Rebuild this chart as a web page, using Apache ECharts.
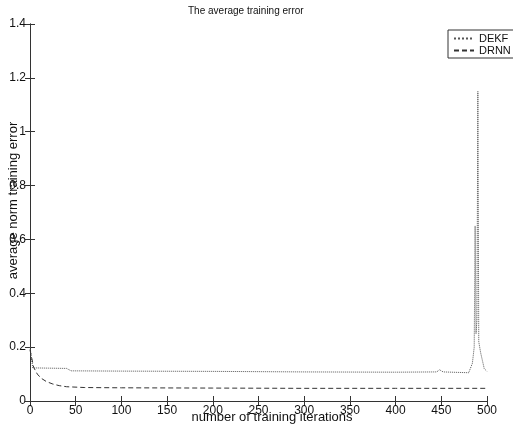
<!DOCTYPE html>
<html>
<head>
<meta charset="utf-8">
<script src="https://cdn.jsdelivr.net/npm/echarts@6/dist/echarts.min.js"></script>
<style>
  html, body { margin: 0; padding: 0; background: #fff; }
  #chart { width: 513px; height: 424px; }
</style>
</head>
<body>
<div id="chart"></div>
<script>
// data
var xTicks = [0, 50, 100, 150, 200, 250, 300, 350, 400, 450, 500];
var yTicks = [0, 0.2, 0.4, 0.6, 0.8, 1, 1.2, 1.4];

var dekfIter = [0, 3, 20, 40, 45, 100, 200, 300, 400, 445, 448, 452, 480, 484, 486, 487, 488, 489, 490, 491, 493, 495, 497, 500];
var dekfErr  = [0.2, 0.123, 0.122, 0.121, 0.112, 0.111, 0.11, 0.108, 0.107, 0.108, 0.116, 0.108, 0.105, 0.14, 0.2, 0.65, 0.25, 0.3, 1.15, 0.22, 0.18, 0.15, 0.12, 0.11];

var drnnIter = [0, 4, 8, 12, 18, 25, 32, 40, 60, 100, 200, 300, 400, 500];
var drnnErr  = [0.19, 0.125, 0.1, 0.085, 0.072, 0.063, 0.057, 0.053, 0.05, 0.049, 0.048, 0.047, 0.047, 0.047];

function pairs(xs, ys) {
	var out = [];
	for (var i = 0; i < xs.length; i++) out.push([xs[i], ys[i]]);
	return out;
}

(function() {
	var myChart = echarts.init(document.getElementById('chart'));
	var font = 'Liberation Sans, Arial, sans-serif';
	var axisCol = '#333';
	var option = {
		backgroundColor: '#fff',
		animation: false,
		title: {
			text: 'The average training error',
			left: 183,
			top: 1,
			textStyle: { fontFamily: font, fontSize: 10, fontWeight: 'normal', color: '#111' }
		},
		legend: {
			left: 448,
			top: 30,
			orient: 'vertical',
			itemWidth: 20,
			itemHeight: 10,
			itemGap: 1,
			padding: [3, 20, 2, 5],
			borderColor: '#333',
			borderWidth: 1,
			backgroundColor: '#fff',
			itemStyle: { opacity: 0 },
			textStyle: { fontFamily: font, fontSize: 11, color: '#111' },
			data: ['DEKF', 'DRNN']
		},
		grid: { left: 30, right: 26, top: 24, bottom: 23, outerBoundsMode: 'none' },
		xAxis: [{
			type: 'value',
			min: 0, max: 500, interval: 50,
			name: 'number of training iterations',
			nameLocation: 'middle',
			nameGap: 10,
			nameMoveOverlap: false,
			nameTextStyle: { fontFamily: font, fontSize: 13, color: '#111', padding: [0, 0, 0, 27] },
			axisLine: { lineStyle: { color: axisCol, width: 1.2 } },
			axisTick: { inside: true, length: 5, lineStyle: { color: axisCol } },
			axisLabel: { fontFamily: font, fontSize: 12, color: '#111', margin: 4 },
			splitLine: { show: false }
		}, {
			type: 'value', position: 'top',
			min: 0, max: 500, interval: 50,
			axisLine: { lineStyle: { color: axisCol, width: 1.2 } },
			axisTick: { inside: true, length: 5, lineStyle: { color: axisCol } },
			axisLabel: { show: false },
			splitLine: { show: false }
		}],
		yAxis: [{
			type: 'value',
			min: 0, max: 1.4, interval: 0.2,
			name: 'average norm training error',
			nameLocation: 'middle',
			nameGap: 10,
			nameMoveOverlap: false,
			nameTextStyle: { fontFamily: font, fontSize: 13, color: '#111', padding: [0, 0, 0, 24] },
			axisLine: { lineStyle: { color: axisCol, width: 1 } },
			axisTick: { inside: true, length: 5, lineStyle: { color: axisCol } },
			axisLabel: { fontFamily: font, fontSize: 12, color: '#111', margin: 4,
				formatter: function(v) { return String(Math.round(v * 10) / 10); } },
			splitLine: { show: false }
		}, {
			type: 'value', position: 'right',
			min: 0, max: 1.4, interval: 0.2,
			axisLine: { lineStyle: { color: axisCol, width: 1 } },
			axisTick: { inside: true, length: 5, lineStyle: { color: axisCol } },
			axisLabel: { show: false },
			splitLine: { show: false }
		}],
		series: [{
			name: 'DEKF',
			type: 'line',
			symbol: 'none',
			color: '#555',
			lineStyle: { color: '#555', width: 1, type: 'dotted' },
			data: pairs(dekfIter, dekfErr)
		}, {
			name: 'DRNN',
			type: 'line',
			symbol: 'none',
			color: '#333',
			lineStyle: { color: '#333', width: 1, type: [5, 3] },
			data: pairs(drnnIter, drnnErr)
		}]
	};
	myChart.setOption(option);
	window.addEventListener('resize', function() {
		myChart.resize();
	});
})();
</script>
</body>
</html>
